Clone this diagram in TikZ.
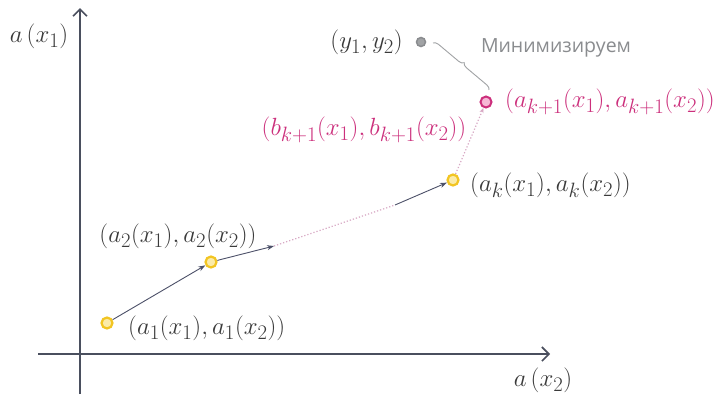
\documentclass[tikz,border=0pt]{standalone}
\usepackage[no-math]{fontspec}
\newfontfamily\rusfont{Open Sans}
\usetikzlibrary{arrows.meta,decorations.pathreplacing}
\definecolor{axiscol}{HTML}{4A4F5E}
\definecolor{txtcol}{HTML}{3A3A3A}
\definecolor{yelline}{HTML}{F2C522}
\definecolor{yelfill}{HTML}{FBEBA8}
\definecolor{pinkcol}{HTML}{CC2F7C}
\definecolor{pinkfill}{HTML}{F6B8D6}
\definecolor{dotcol}{HTML}{D8A8C4}
\definecolor{graycol}{HTML}{8A8C8F}
\definecolor{arrcol}{HTML}{4C5068}
\tikzset{
  axisline/.style={draw=axiscol, line width=1.6pt, -{Straight Barb[length=7pt,width=14pt,line width=1.6pt]}},
  ypt/.style={circle, draw=yelline, fill=yelfill, line width=2.2pt, minimum size=11pt, inner sep=0pt},
  ppt/.style={circle, draw=pinkcol, fill=pinkfill, line width=2pt, minimum size=11pt, inner sep=0pt},
  gpt/.style={circle, draw=graycol, fill=graycol!80, line width=1.5pt, minimum size=9pt, inner sep=0pt},
  lbl/.style={text=txtcol, inner sep=0pt, font=\fontsize{29}{32}\selectfont},
  plbl/.style={text=pinkcol, inner sep=0pt, font=\fontsize{29}{32}\selectfont},
  stepline/.style={draw=arrcol, line width=0.9pt, -{Stealth[length=7pt,width=5pt]}},
  dotline/.style={draw=dotcol, line width=1.2pt, dotted},
}
\begin{document}
\begin{tikzpicture}[x=1pt,y=-1pt]
\useasboundingbox (0,0) rectangle (717,394);
\fill[white] (0,0) rectangle (717,394);
% axes
\coordinate (ybot) at (80,394);
\coordinate (ytop) at (80,8);
\coordinate (xleft) at (38,354);
\coordinate (xright) at (550,354);
\draw[axisline] (ybot) -- (ytop);
\draw[axisline] (xleft) -- (xright);
\node[lbl, anchor=center] (lx1) at (39,36) {$a\,(x_1)$};
\node[lbl, anchor=center] (lx2) at (543,380) {$a\,(x_2)$};
% points
\node[ypt] (a1) at (107,323) {};
\node[ypt] (a2) at (211,262) {};
\node[ypt] (ak) at (453,180) {};
\node[ppt] (ak1) at (486,102) {};
\node[gpt] (yp) at (421,42) {};
\coordinate (m1) at (274,246);
\coordinate (m2) at (395,205);
% connectors
\draw[stepline] (a1) -- (a2);
\draw[stepline] (a2) -- (m1);
\draw[dotline] (m1) -- (m2);
\draw[stepline] (m2) -- (ak);
\draw[dotline, -{Stealth[length=5pt,width=4pt]}] (ak) -- (ak1);
% labels
\node[lbl, anchor=west] (la1) at (128,328) {$(a_1(x_1),a_1(x_2))$};
\node[lbl, anchor=center] (la2) at (178,236) {$(a_2(x_1),a_2(x_2))$};
\node[lbl, anchor=west] (lak) at (470,185) {$(a_k(x_1),a_k(x_2))$};
\node[plbl, anchor=west] (lak1) at (505,102) {$(a_{k+1}(x_1),a_{k+1}(x_2))$};
\node[plbl, anchor=center] (lbk1) at (364,130) {$(b_{k+1}(x_1),b_{k+1}(x_2))$};
\node[lbl, anchor=east] (ly) at (403,42) {$(y_1,y_2)$};
% brace
\coordinate (bs) at (433,43);
\coordinate (be) at (489,90);
\draw[graycol!80, line width=0.9pt, decorate, decoration={brace, amplitude=5pt}] (bs) -- (be);
\node[text=graycol, inner sep=0pt, font=\rusfont\fontsize{19.5}{22}\selectfont] (lmin) at (556,48) {Минимизируем};
\end{tikzpicture}
\end{document}
